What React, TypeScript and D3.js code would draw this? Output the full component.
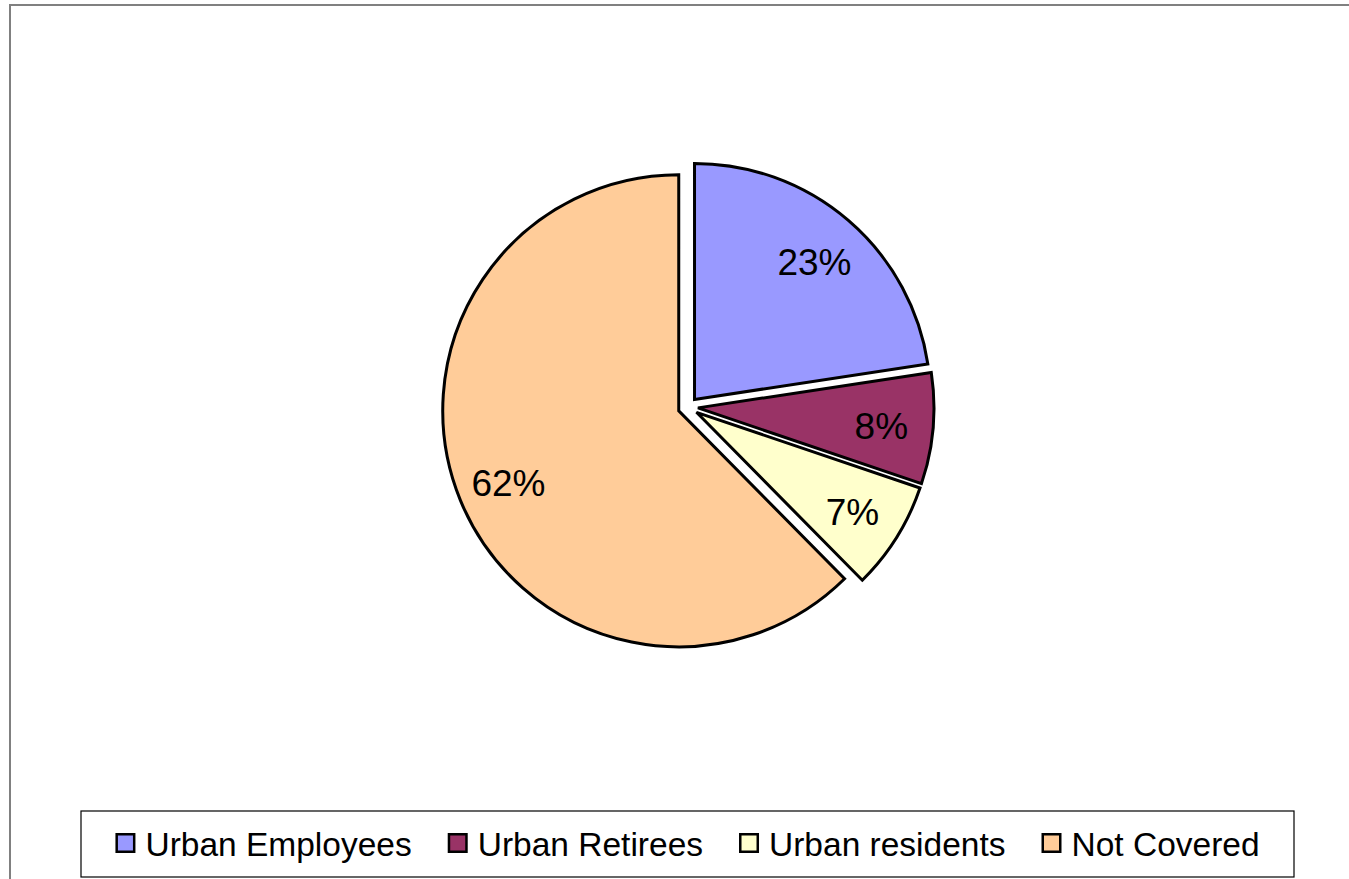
import React, { useEffect, useRef } from "react";
import * as d3 from "d3";

const categories = ["Urban Employees", "Urban Retirees", "Urban residents", "Not Covered"];
const shares = [22.6, 7.6, 7.4, 62.4];
const labels = ["23%", "8%", "7%", "62%"];
const colors = ["#9999FF", "#993366", "#FFFFCC", "#FFCC99"];

const W = 1349;
const H = 879;
const FONT = "'Liberation Sans', Arial, sans-serif";

export default function App(): JSX.Element {
  const ref = useRef<SVGSVGElement | null>(null);

  useEffect(() => {
    const svg = d3.select(ref.current);
    svg.selectAll("*").remove();

    // outer chart-area frame
    svg
      .append("rect")
      .attr("x", 10)
      .attr("y", 5)
      .attr("width", W)
      .attr("height", H)
      .attr("fill", "#fff")
      .attr("stroke", "#808080")
      .attr("stroke-width", 2);

    const cx = 688;
    const cy = 407;
    const r = 236;
    const explode = 10;
    const labelR = r * 0.78;

    const items = categories.map((c, i) => ({ key: c, value: shares[i], label: labels[i], color: colors[i] }));
    const pie = d3
      .pie<(typeof items)[number]>()
      .sort(null)
      .value((d) => d.value);
    const arcs = pie(items);
    const arc = d3.arc<d3.PieArcDatum<(typeof items)[number]>>().innerRadius(0).outerRadius(r);

    const g = svg.append("g");
    arcs.forEach((a) => {
      const mid = (a.startAngle + a.endAngle) / 2;
      const ox = cx + explode * Math.sin(mid);
      const oy = cy - explode * Math.cos(mid);
      g.append("path")
        .attr("transform", `translate(${ox},${oy})`)
        .attr("d", arc(a))
        .attr("fill", a.data.color)
        .attr("stroke", "#000")
        .attr("stroke-width", 3)
        .attr("stroke-linejoin", "miter");
    });

    const fs = 37;
    arcs.forEach((a) => {
      const mid = (a.startAngle + a.endAngle) / 2;
      const ox = cx + explode * Math.sin(mid);
      const oy = cy - explode * Math.cos(mid);
      svg
        .append("text")
        .attr("x", ox + labelR * Math.sin(mid))
        .attr("y", oy - labelR * Math.cos(mid) + fs * 0.36 + 2)
        .attr("text-anchor", "middle")
        .attr("font-family", FONT)
        .attr("font-size", fs)
        .attr("fill", "#000")
        .text(a.data.label);
    });

    // legend
    const lx = 81;
    const ly = 811;
    const lw = 1213;
    const lh = 66;
    svg
      .append("rect")
      .attr("x", lx)
      .attr("y", ly)
      .attr("width", lw)
      .attr("height", lh)
      .attr("fill", "#fff")
      .attr("stroke", "#000")
      .attr("stroke-width", 1.2);

    const lfs = 33.5;
    const box = 17.5;
    const sw = 2.5;
    const textGap = 10;
    const itemGap = 36;
    const lg = svg.append("g");
    const entries = items.map((d) => {
      const eg = lg.append("g");
      const t = eg
        .append("text")
        .attr("font-family", FONT)
        .attr("font-size", lfs)
        .attr("fill", "#000")
        .text(d.key);
      const tw = (t.node() as SVGTextElement).getComputedTextLength();
      return { d, eg, t, tw };
    });
    const total =
      entries.reduce((s, e) => s + box + sw + textGap + e.tw, 0) + itemGap * (entries.length - 1);
    let x = lx + (lw - total) / 2;
    const midY = ly + 32;
    entries.forEach((e) => {
      e.eg
        .append("rect")
        .attr("x", x + sw / 2)
        .attr("y", midY - box / 2)
        .attr("width", box)
        .attr("height", box)
        .attr("fill", e.d.color)
        .attr("stroke", "#000")
        .attr("stroke-width", sw);
      x += box + sw + textGap;
      e.t.attr("x", x).attr("y", midY + 13);
      x += e.tw + itemGap;
    });
  }, []);

  return (
    <svg
      ref={ref}
      width={W}
      height={H}
      style={{ position: "absolute", left: 0, top: 0, display: "block", background: "#fff" }}
    />
  );
}
